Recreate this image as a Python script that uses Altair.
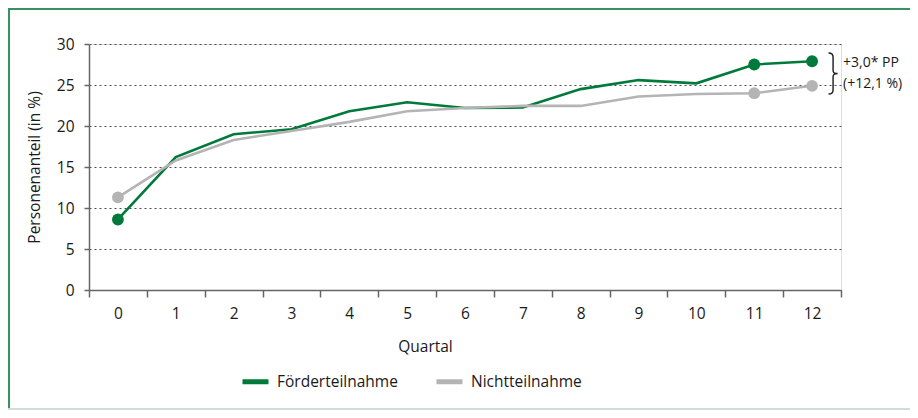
import altair as alt
import pandas as pd

quartal = list(range(13))
foerder = [8.6, 16.2, 19.0, 19.6, 21.8, 22.9, 22.2, 22.25, 24.5, 25.6, 25.2, 27.5, 27.9]
nicht = [11.3, 15.8, 18.3, 19.4, 20.5, 21.8, 22.2, 22.45, 22.45, 23.6, 23.9, 24.0, 24.9]
series_names = ["Förderteilnahme", "Nichtteilnahme"]
series_colors = ["#007a3a", "#b4b4b4"]
marked_quartals = [0, 11, 12]
annot_lines = ["+3,0* PP", "(+12,1 %)"]
y_ticks = [0, 5, 10, 15, 20, 25, 30]
x_ticks = [q - 0.5 for q in quartal] + [12.5]

FONT = "Open Sans"

df = pd.DataFrame({
    "quartal": quartal * 2,
    "wert": foerder + nicht,
    "serie": [series_names[0]] * len(quartal) + [series_names[1]] * len(quartal),
    "ord": [0] * len(quartal) + [1] * len(quartal),
})
pts = df[df["quartal"].isin(marked_quartals)]
annot = pd.DataFrame({"quartal": [12], "mid": [(foerder[-1] + nicht[-1]) / 2]})
frame = pd.DataFrame({"a": [0]})

xscale = alt.Scale(domain=[-0.5, 12.5], nice=False, zero=False)
yscale = alt.Scale(domain=[0, 30], nice=False)

x_enc = alt.X("quartal:Q", scale=xscale, axis=alt.Axis(
    values=x_ticks, grid=False, tickSize=7, tickColor="#666", domainColor="#666",
    domainWidth=1.5, tickWidth=1.5,
    labelExpr="datum.value < 12 ? format(datum.value + 0.5, 'd') : ''",
    labelOffset=28.9, labelPadding=9, labelFontSize=15.5, labelColor="#1a1a1a",
    labelFont=FONT, labelFlush=False, labelBound=False, labelOverlap=False,
    title="Quartal", titleX=336, titleY=56, titleBaseline="middle", titleAlign="center",
    titleFontSize=15.5, titleFontWeight="normal", titleFont=FONT, titleColor="#1a1a1a",
))
y_enc = alt.Y("wert:Q", scale=yscale, axis=alt.Axis(
    values=y_ticks, grid=True, gridColor="#4d4d4d", gridDash=[2, 3], gridWidth=1,
    tickSize=5, tickColor="#666", domainColor="#666", domainWidth=1.5, tickWidth=1.5,
    labelPadding=10, labelFontSize=15.5, labelColor="#1a1a1a", labelFont=FONT,
    title="Personenanteil (in %)", titlePadding=14, titleFontSize=15.5,
    titleFontWeight="normal", titleFont=FONT, titleColor="#1a1a1a",
))

color_scale = alt.Scale(domain=series_names, range=series_colors)

lines = alt.Chart(df).mark_line(strokeWidth=2.6).encode(
    x=x_enc, y=y_enc,
    color=alt.Color("serie:N", scale=color_scale, sort=series_names, legend=alt.Legend(
        title=None, orient="none", legendX=151, legendY=322, direction="horizontal",
        symbolType="stroke", symbolStrokeWidth=5, symbolSize=676,
        labelFontSize=15.5, labelFont=FONT, labelColor="#1a1a1a", labelOffset=6,
        columnPadding=28,
    )),
    order=alt.Order("ord:Q"),
)

points = alt.Chart(pts).mark_circle(size=140, opacity=1).encode(
    x="quartal:Q", y="wert:Q",
    fill=alt.Fill("serie:N", scale=alt.Scale(domain=series_names, range=series_colors), legend=None),
)

brace_path = "M -0.22 -1 Q 0 -1 0 -0.8 L 0 -0.14 Q 0 0 0.22 0 Q 0 0 0 0.14 L 0 0.8 Q 0 1 -0.22 1"
brace = alt.Chart(annot).mark_point(
    shape=brace_path, size=1681, filled=False, stroke="#1a1a1a", strokeWidth=1.4,
    opacity=1, xOffset=21,
).encode(x="quartal:Q", y="mid:Q")

annot_text = alt.Chart(annot).mark_text(
    align="left", baseline="middle", dx=31, dy=-11, lineHeight=21, fontSize=14,
    font=FONT, color="#1a1a1a",
).encode(x="quartal:Q", y="mid:Q", text=alt.value(annot_lines))

top_line = alt.Chart(frame).mark_rule(color="#3a9160", strokeWidth=2).encode(
    x=alt.value(-81), x2=alt.value(821), y=alt.value(-35))
left_line = alt.Chart(frame).mark_rule(color="#3a9160", strokeWidth=2).encode(
    x=alt.value(-80), y=alt.value(-36), y2=alt.value(366))
bottom_line = alt.Chart(frame).mark_rule(color="#d3dcd8", strokeWidth=2).encode(
    x=alt.value(-81), x2=alt.value(821), y=alt.value(365))

chart = alt.layer(
    top_line, left_line, bottom_line, lines, points, brace, annot_text
).properties(
    width=752, height=246,
    padding={"left": 81, "top": 36, "right": 69, "bottom": 120},
    autosize=alt.AutoSizeParams(type="none"),
).configure_view(stroke=None).configure(font=FONT)

chart.save("out.html", embed_options={"renderer": "svg", "actions": False})
